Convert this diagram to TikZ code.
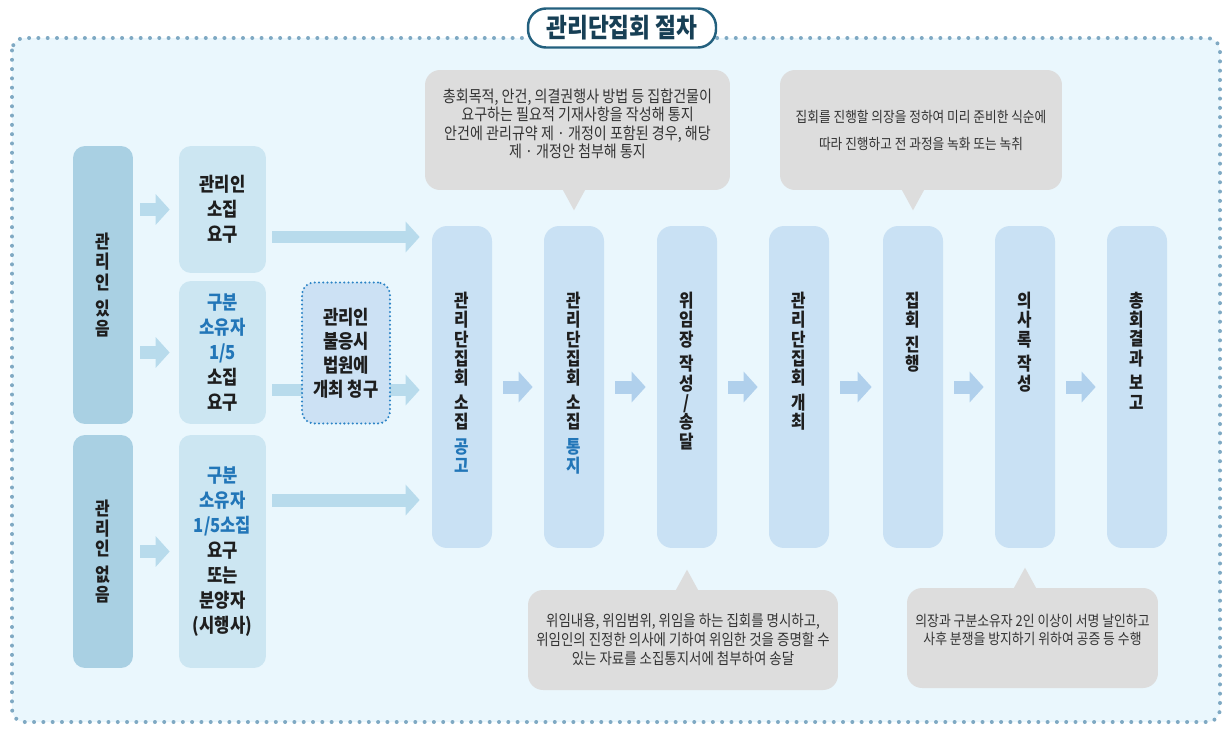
\documentclass[tikz,border=0pt]{standalone}
\usepackage{fontspec}
\setmainfont[FakeStretch=0.86]{Noto Sans CJK KR}
\usetikzlibrary{arrows.meta,positioning}

\definecolor{bgblue}{HTML}{EAF7FD}
\definecolor{framedot}{HTML}{7FA9C3}
\definecolor{titleline}{HTML}{23607E}
\definecolor{titletext}{HTML}{173F55}
\definecolor{sidedark}{HTML}{A9D0E3}
\definecolor{sidelight}{HTML}{CCE6F2}
\definecolor{steplight}{HTML}{C9E1F4}
\definecolor{courtfill}{HTML}{CCE1F4}
\definecolor{courtdot}{HTML}{2C84C6}
\definecolor{callgray}{HTML}{DDDDDD}
\definecolor{calltext}{HTML}{333333}
\definecolor{textdark}{HTML}{1E1E1E}
\definecolor{keyblue}{HTML}{2276B8}
\definecolor{sideblue}{HTML}{B8DBEC}
\definecolor{arrowblue}{HTML}{B0D0EC}

\newcommand{\kb}[1]{{\color{keyblue}#1}}

\begin{document}
\begin{tikzpicture}[x=0.02cm, y=-0.02cm,
    panel/.style={rectangle, rounded corners=0.24cm, inner sep=0pt, align=center, text=textdark},
    sidebox/.style={panel, fill=sidedark, minimum width=1.2cm, font=\bfseries\fontsize{10.5}{11.6}\selectfont},
    askbox/.style={panel, fill=sidelight, minimum width=1.74cm, font=\bfseries\fontsize{11}{14.2}\selectfont},
    stepbox/.style={panel, rounded corners=0.3cm, fill=steplight, minimum width=1.2cm, minimum height=6.44cm},
    steptext/.style={inner sep=0pt, align=center, text=textdark, font=\bfseries\fontsize{10.4}{11}\selectfont},
    notebox/.style={panel, rounded corners=0.3cm, fill=callgray, text=calltext},
    flowarrow/.style={line width=0.26cm, draw=arrowblue, -{Triangle[length=0.28cm, width=0.6cm]}},
  ]
  \useasboundingbox (0,0) rectangle (1226,730);

  % Frame and title
  \draw[draw=framedot, fill=bgblue, line width=0.08cm, line cap=round, dash pattern=on 0pt off 0.186cm, rounded corners=0.25cm] (12,38) rectangle (1220,722);
  \node[draw=titleline, line width=1.4pt, fill=white, rounded corners=0.36cm, minimum width=3.76cm, minimum height=0.78cm, font=\bfseries\fontsize{15}{16}\selectfont, text=titletext] (title) at (622,28) {관리단집회 절차};

  % Manager present / absent
  \node[sidebox, minimum height=5.56cm] (has) at (103,285) {관\\리\\인\\[3pt]있\\음};
  \node[sidebox, minimum height=4.66cm] (none) at (103,551.5) {관\\리\\인\\[3pt]없\\음};

  % Convening requests
  \node[askbox, minimum height=2.54cm] (ask1) at (222.5,209.5) {관리인\\소집\\요구};
  \node[askbox, minimum height=2.86cm] (ask2) at (222.5,352.5) {\kb{구분}\\\kb{소유자}\\\kb{1/5}\\소집\\요구};
  \node[askbox, minimum height=4.66cm] (ask3) at (222.5,551.5) {\kb{구분}\\\kb{소유자}\\\kb{1/5소집}\\요구\\또는\\분양자\\(시행사)};
  \draw[flowarrow, draw=sideblue, shorten <=0.14cm, shorten >=0.18cm] (has.east |- ask1.west) -- (ask1.west);
  \draw[flowarrow, draw=sideblue, shorten <=0.14cm, shorten >=0.18cm] (has.east |- ask2.west) -- (ask2.west);
  \draw[flowarrow, draw=sideblue, shorten <=0.14cm, shorten >=0.18cm] (none.east |- ask3.west) -- (ask3.west);

  % Procedure steps
  \node[stepbox] (pub) at (462,387) {};
  \node[steptext, below=1.32cm of pub.north] (pub-t) {관\\리\\단\\집\\회\\[3pt]소\\집\\[3pt]\kb{공}\\\kb{고}};
  \node[stepbox] (letter) at (574,387) {};
  \node[steptext, below=1.32cm of letter.north] (letter-t) {관\\리\\단\\집\\회\\[3pt]소\\집\\[3pt]\kb{통}\\\kb{지}};
  \node[stepbox] (proxy) at (687,387) {};
  \node[steptext, below=1.32cm of proxy.north] (proxy-t) {위\\임\\장\\[3pt]작\\성\\/\\송\\달};
  \node[stepbox] (open) at (799,387) {};
  \node[steptext, below=1.32cm of open.north] (open-t) {관\\리\\단\\집\\회\\[3pt]개\\최};
  \node[stepbox] (run) at (913,387) {};
  \node[steptext, below=1.32cm of run.north] (run-t) {집\\회\\[3pt]진\\행};
  \node[stepbox] (minutes) at (1025,387) {};
  \node[steptext, below=1.32cm of minutes.north] (minutes-t) {의\\사\\록\\[3pt]작\\성};
  \node[stepbox] (report) at (1137,387) {};
  \node[steptext, below=1.32cm of report.north] (report-t) {총\\회\\결\\과\\[3pt]보\\고};
  \draw[flowarrow, shorten <=0.22cm, shorten >=0.22cm] (pub) -- (letter);
  \draw[flowarrow, shorten <=0.22cm, shorten >=0.22cm] (letter) -- (proxy);
  \draw[flowarrow, shorten <=0.22cm, shorten >=0.22cm] (proxy) -- (open);
  \draw[flowarrow, shorten <=0.22cm, shorten >=0.22cm] (open) -- (run);
  \draw[flowarrow, shorten <=0.22cm, shorten >=0.22cm] (run) -- (minutes);
  \draw[flowarrow, shorten <=0.22cm, shorten >=0.22cm] (minutes) -- (report);

  % Into the notice
  \coordinate (ask1-out) at ([yshift=-0.55cm]ask1.east);
  \coordinate (ask2-out) at ([yshift=-0.75cm]ask2.east);
  \coordinate (ask3-out) at ([yshift=1.03cm]ask3.east);
  \draw[flowarrow, draw=sideblue, shorten <=0.12cm, shorten >=0.24cm] (ask1-out) -- (ask1-out -| pub.west);
  \draw[flowarrow, draw=sideblue, shorten <=0.12cm, shorten >=0.24cm] (ask2-out) -- (ask2-out -| pub.west);
  \draw[flowarrow, draw=sideblue, shorten <=0.12cm, shorten >=0.24cm] (ask3-out) -- (ask3-out -| pub.west);

  % Court request
  \node[panel, fill=courtfill, draw=courtdot, line width=1.3pt, dash pattern=on 0pt off 2.4pt, line cap=round, minimum width=1.76cm, minimum height=2.82cm, font=\bfseries\fontsize{11}{13.6}\selectfont] (court) at (346,353) {관리인\\불응시\\법원에\\개최 청구};

  % Notes
  \node[notebox, minimum width=6.1cm, minimum height=2.4cm, text depth=8pt, font=\fontsize{9.3}{10.5}\selectfont] (note1) at (577.5,130) {총회목적, 안건, 의결권행사 방법 등 집합건물이\\요구하는 필요적 기재사항을 작성해 통지\\안건에 관리규약 제 · 개정이 포함된 경우, 해당\\제 · 개정안 첨부해 통지};
  \fill[callgray] (note1.south -| letter.north) ++(-12,-2) -- ++(12,22) -- ++(12,-22) -- cycle;
  \node[notebox, minimum width=5.64cm, minimum height=2.4cm, font=\fontsize{8.4}{15.3}\selectfont] (note2) at (921,130) {집회를 진행할 의장을 정하여 미리 준비한 식순에\\따라 진행하고 전 과정을 녹화 또는 녹취};
  \fill[callgray] (note2.south -| run.north) ++(-12,-2) -- ++(12,22) -- ++(12,-22) -- cycle;
  \node[notebox, minimum width=6.2cm, minimum height=2cm, font=\fontsize{8.9}{10.8}\selectfont] (note3) at (683,640) {위임내용, 위임범위, 위임을 하는 집회를 명시하고,\\위임인의 진정한 의사에 기하여 위임한 것을 증명할 수\\있는 자료를 소집통지서에 첨부하여 송달};
  \fill[callgray] (note3.north -| proxy.south) ++(-12,2) -- ++(12,-22) -- ++(12,22) -- cycle;
  \node[notebox, minimum width=5.02cm, minimum height=2cm, text depth=10pt, font=\fontsize{8.5}{10.2}\selectfont] (note4) at (1032.5,638) {의장과 구분소유자 2인 이상이 서명 날인하고\\사후 분쟁을 방지하기 위하여 공증 등 수행};
  \fill[callgray] (note4.north -| minutes.south) ++(-12,2) -- ++(12,-22) -- ++(12,22) -- cycle;
\end{tikzpicture}
\end{document}
